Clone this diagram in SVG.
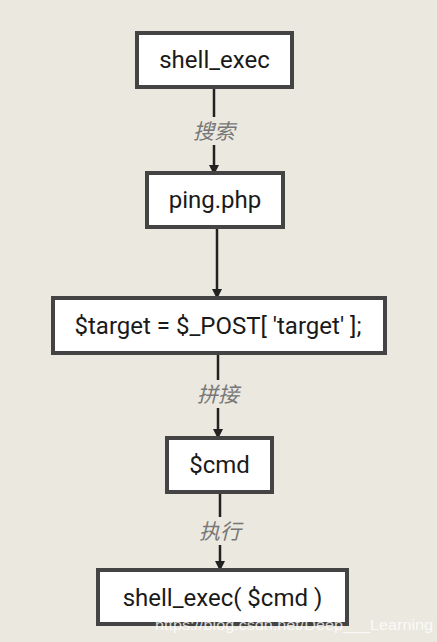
<svg xmlns="http://www.w3.org/2000/svg" width="437" height="642" viewBox="0 0 437 642">
<defs>
<style>
.box{fill:#fff;stroke:#444;stroke-width:4}
.t{font-family:Roboto,"Liberation Sans",sans-serif;font-size:24px;fill:#1a1a1a;text-anchor:middle}
.e{stroke:#222;stroke-width:2.5;fill:none}
.lb{font-family:"Noto Sans CJK SC",sans-serif;font-size:21px;font-style:italic;fill:#777;text-anchor:middle}
.lbbg{fill:#ebe8df}
</style>
<marker id="ah" markerWidth="10" markerHeight="10" refX="8" refY="5" orient="auto" markerUnits="userSpaceOnUse">
<path d="M0,0 L10,5 L0,10 Z" fill="#222"/>
</marker>
</defs>
<rect width="437" height="642" fill="#ebe8df"/>
<g id="edges">
<line class="e" x1="214" y1="87" x2="214" y2="173" marker-end="url(#ah)"/>
<rect class="lbbg" x="190" y="117" width="48" height="28"/>
<text class="lb" x="214" y="139">搜索</text>
<line class="e" x1="217" y1="227" x2="217" y2="297" marker-end="url(#ah)"/>
<line class="e" x1="218" y1="353" x2="218" y2="437" marker-end="url(#ah)"/>
<rect class="lbbg" x="194" y="380" width="48" height="28"/>
<text class="lb" x="218" y="402">拼接</text>
<line class="e" x1="220" y1="492" x2="220" y2="569" marker-end="url(#ah)"/>
<rect class="lbbg" x="196" y="517" width="48" height="28"/>
<text class="lb" x="220" y="539">执行</text>
</g>
<g id="n1"><rect class="box" x="137" y="33" width="155" height="54"/><text class="t" x="214.5" y="68">shell_exec</text></g>
<g id="n2"><rect class="box" x="147" y="173" width="136" height="54"/><text class="t" x="215" y="208">ping.php</text></g>
<g id="n3"><rect class="box" x="53" y="298" width="332" height="55"/><text class="t" x="218" y="334">$target = $_POST[ 'target' ];</text></g>
<g id="n4"><rect class="box" x="167" y="438" width="105" height="54"/><text class="t" x="219.5" y="473">$cmd</text></g>
<g id="n5"><rect class="box" x="98" y="570" width="249" height="54"/><text class="t" x="222.5" y="606">shell_exec( $cmd )</text></g>
<text x="155" y="630" font-family="Liberation Sans,sans-serif" font-size="15" fill="#fff" fill-opacity="0.8" textLength="278" lengthAdjust="spacingAndGlyphs">https://blog.csdn.net/Deep___Learning</text>
</svg>
